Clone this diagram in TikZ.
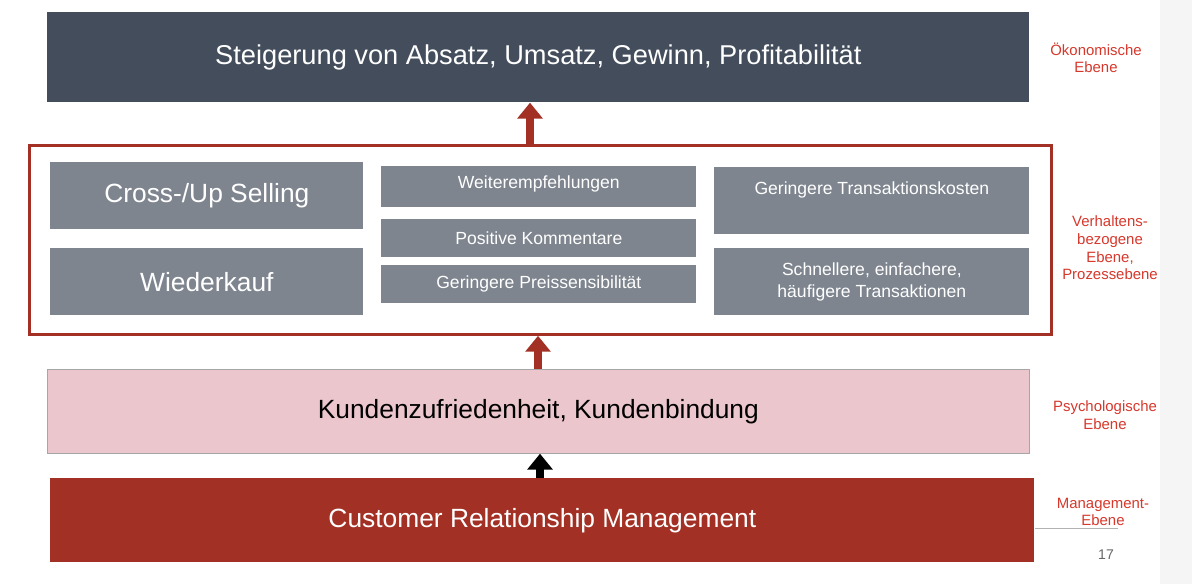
\documentclass[tikz,border=0pt]{standalone}
\usepackage{fontspec}
\setmainfont{Liberation Sans}
\usetikzlibrary{arrows.meta}
\definecolor{slate}{HTML}{434D5C}
\definecolor{boxgray}{HTML}{7E858F}
\definecolor{darkred}{HTML}{A33025}
\definecolor{pinkish}{HTML}{EBC6CC}
\definecolor{labelred}{HTML}{D7382C}
\tikzset{
  box/.style={draw=none,fill=boxgray,text=white,inner sep=0pt,anchor=north west,align=center},
  level/.style={text=labelred,font=\fontsize{8.5}{10}\selectfont,align=center},
  uparrow/.style={-{Triangle[width=14pt,length=9pt]},line width=4pt}
}
\newcommand{\boxat}[6]{\node[box,minimum width=#3*0.02cm,minimum height=#4*0.02cm,font=#5] (#6) at (#1*0.02cm,-#2*0.02cm) {};}
\begin{document}
\begin{tikzpicture}[x=0.02cm,y=-0.02cm]
\useasboundingbox (0,0) rectangle (1192,584);
\fill[white] (0,0) rectangle (1192,584);
\fill[gray!8] (1160,0) rectangle (1192,584);
\begin{scope}
\clip (0,0) rectangle (1160,584);
% levels
\node[draw=none,fill=slate,minimum width=982*0.02cm,minimum height=90*0.02cm,anchor=north west,text=white,font=\fontsize{15.5}{18}\selectfont] (goal) at (47,12) {Steigerung von Absatz, Umsatz, Gewinn, Profitabilität};
\node[draw=darkred,line width=1.6pt,minimum width=1022*0.02cm,minimum height=189*0.02cm,anchor=north west,inner sep=0pt] (behav) at (28,144) {};
\node[draw=gray!70,fill=pinkish,minimum width=982*0.02cm,minimum height=84*0.02cm,anchor=north west,font=\fontsize{15}{18}\selectfont] (psych) at (47,369) {Kundenzufriedenheit, Kundenbindung};
\node[fill=darkred,minimum width=984*0.02cm,minimum height=84*0.02cm,anchor=north west,text=white,font=\fontsize{15}{18}\selectfont] (crm) at (50,478) {Customer Relationship Management};
% behaviour boxes
\node[box,minimum width=313*0.02cm,minimum height=67*0.02cm,font=\fontsize{15}{18}\selectfont] (cross) at (50,162) {Cross-/Up Selling};
\node[box,minimum width=313*0.02cm,minimum height=67*0.02cm,font=\fontsize{15}{18}\selectfont] (rebuy) at (50,248) {Wiederkauf};
\node[box,minimum width=315*0.02cm,minimum height=41*0.02cm,font=\fontsize{10}{12}\selectfont,anchor=north west] (recom) at (381,166) {\raisebox{5pt}{Weiterempfehlungen}};
\node[box,minimum width=315*0.02cm,minimum height=38*0.02cm,font=\fontsize{10}{12}\selectfont] (posit) at (381,219) {Positive Kommentare};
\node[box,minimum width=315*0.02cm,minimum height=38*0.02cm,font=\fontsize{10}{12}\selectfont] (price) at (381,265) {Geringere Preissensibilität};
\node[box,minimum width=315*0.02cm,minimum height=67*0.02cm,font=\fontsize{10}{12}\selectfont] (costs) at (714,167) {\raisebox{14pt}{Geringere Transaktionskosten}};
\node[box,minimum width=315*0.02cm,minimum height=67*0.02cm,font=\fontsize{10}{12.5}\selectfont] (fast) at (714,248) {Schnellere, einfachere,\\häufigere Transaktionen};
% arrows
\draw[uparrow,darkred] (behav.north -| 530,0) -- (goal.south -| 530,0);
\draw[uparrow,darkred] (psych.north -| 538,0) -- (behav.south -| 538,0);
\draw[uparrow,black] (crm.north -| 540,0) -- (psych.south -| 540,0);
% level labels
\node[level] (l1) at (1096,58) {Ökonomische\\Ebene};
\node[level] (l2) at (1110,248) {Verhaltens-\\bezogene\\Ebene,\\Prozessebene};
\node[level] (l3) at (1105,415) {Psychologische\\Ebene};
\node[level] (l4) at (1103,512) {Management-\\Ebene};
\end{scope}
\coordinate (rs) at (1035,528);
\coordinate (re) at (1118,528);
\draw[gray!60] (rs) -- (re);
\node[text=gray!80!black,font=\fontsize{8}{10}\selectfont] (page) at (1106,555) {17};
\end{tikzpicture}
\end{document}
